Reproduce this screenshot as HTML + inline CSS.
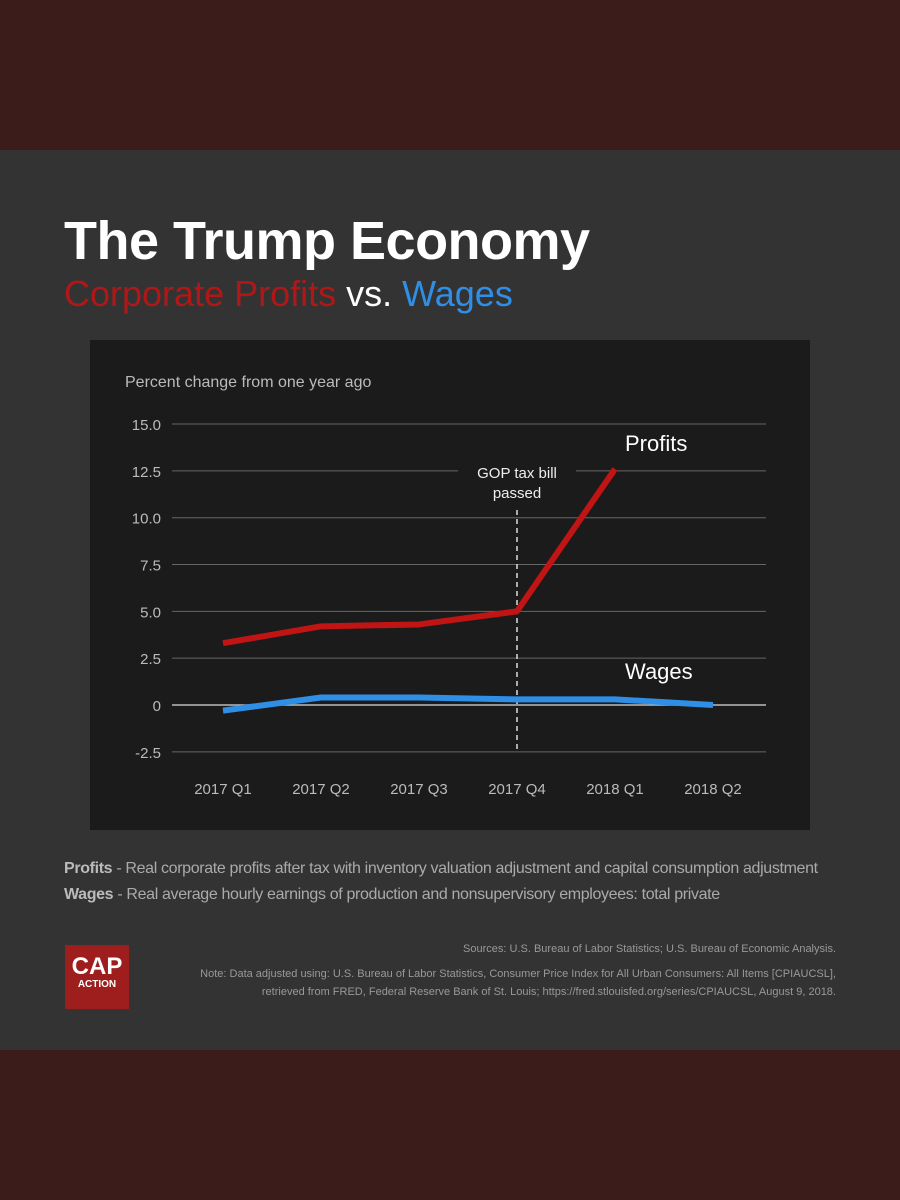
<!DOCTYPE html>
<html><head><meta charset="utf-8"><style>
body{margin:0;width:900px;height:1200px;background:#3c1b1b;font-family:"Liberation Sans",sans-serif;position:relative;overflow:hidden}
#panel{position:absolute;left:0;top:150px;width:900px;height:900px;background:#333333}
.abs{position:absolute;white-space:nowrap}
</style></head><body>
<div id="panel"></div>
<div class="abs" style="left:64px;top:210px;font-size:54px;font-weight:bold;color:#fff;letter-spacing:-0.5px">The Trump Economy</div>
<div class="abs" style="left:64px;top:273px;font-size:36px;color:#fff"><span style="color:#b01818">Corporate Profits</span> vs. <span style="color:#2f8fe6">Wages</span></div>
<svg class="abs" style="left:0;top:0" width="900" height="1200" id="chart"></svg>
<div class="abs" style="left:64px;top:860px;font-size:16px;color:#aaa;letter-spacing:-0.35px"><b style="color:#bbb">Profits</b> - Real corporate profits after tax with inventory valuation adjustment and capital consumption adjustment</div>
<div class="abs" style="left:64px;top:886px;font-size:16px;color:#aaa;letter-spacing:-0.35px"><b style="color:#bbb">Wages</b> - Real average hourly earnings of production and nonsupervisory employees: total private</div>
<div class="abs" style="left:65px;top:945px;width:64px;height:64px;background:#9e1e1e;color:#fff;text-align:center;font-weight:bold">
<div style="font-size:24px;margin-top:10px;line-height:24px">CAP</div><div style="font-size:10px">ACTION</div></div>
<div class="abs" style="right:64px;top:943px;font-size:11px;color:#999">Sources: U.S. Bureau of Labor Statistics; U.S. Bureau of Economic Analysis.</div>
<div class="abs" style="right:64px;top:965px;font-size:11px;line-height:18px;color:#999;text-align:right">Note: Data adjusted using: U.S. Bureau of Labor Statistics, Consumer Price Index for All Urban Consumers: All Items [CPIAUCSL],<br>retrieved from FRED, Federal Reserve Bank of St. Louis; https://fred.stlouisfed.org/series/CPIAUCSL, August 9, 2018.</div>
<script>
const categories=["2017 Q1","2017 Q2","2017 Q3","2017 Q4","2018 Q1","2018 Q2"];
const profits=[3.3,4.2,4.3,5.0,12.6,null];
const wages=[-0.3,0.4,0.4,0.3,0.3,0.0];
const yTicks=[15,12.5,10,7.5,5,2.5,0,-2.5];
const yTickLabels=["15.0","12.5","10.0","7.5","5.0","2.5","0","-2.5"];
const svg=document.getElementById('chart');const NS="http://www.w3.org/2000/svg";
function y(v){return 705-v*18.73;}
function x(i){return 223+i*98;}
function mk(t,a,p){const e=document.createElementNS(NS,t);for(const k in a)e.setAttribute(k,a[k]);(p||svg).appendChild(e);return e;}
const bg=mk('rect',{x:90,y:340,width:720,height:490,fill:'#1b1b1b'});


const yt=mk('text',{x:125,y:387,fill:'#bbb','font-size':16,'font-family':'Liberation Sans'});yt.textContent='Percent change from one year ago';


yTicks.forEach((v,i)=>{
 const g=mk('line',{x1:172,x2:766,y1:y(v),y2:y(v),stroke:v===0?'#bbb':'#666','stroke-width':v===0?1.5:1});
 
 
 const t=mk('text',{x:161,y:y(v)+6,fill:'#bbb','font-size':15,'text-anchor':'end','font-family':'Liberation Sans'});t.textContent=yTickLabels[i];
 
 
});
categories.forEach((c,i)=>{
 const t=mk('text',{x:x(i),y:794,fill:'#bbb','font-size':15,'text-anchor':'middle','font-family':'Liberation Sans'});t.textContent=c;
 
 
});
const vl=mk('line',{x1:x(3),x2:x(3),y1:510,y2:752,stroke:'#ddd','stroke-width':1.5,'stroke-dasharray':'5,4'});


const r=mk('rect',{x:458,y:460,width:118,height:44,fill:'#1b1b1b'});
const a1=mk('text',{x:517,y:478,fill:'#eee','font-size':15,'text-anchor':'middle','font-family':'Liberation Sans'});a1.textContent='GOP tax bill';


const a2=mk('text',{x:517,y:498,fill:'#eee','font-size':15,'text-anchor':'middle','font-family':'Liberation Sans'});a2.textContent='passed';


function path(arr,col,name){let d='';arr.forEach((v,i)=>{if(v===null)return;d+=(d?'L':'M')+x(i)+','+y(v);});
 const p=mk('path',{d:d,fill:'none',stroke:col,'stroke-width':6,'stroke-linejoin':'round'});
 
 }
path(profits,'#c11414','profits-line');
path(wages,'#2f8fe6','wages-line');
const l1=mk('text',{x:625,y:451,fill:'#fff','font-size':22,'font-family':'Liberation Sans'});l1.textContent='Profits';


const l2=mk('text',{x:625,y:679,fill:'#fff','font-size':22,'font-family':'Liberation Sans'});l2.textContent='Wages';


</script>
</body></html>
